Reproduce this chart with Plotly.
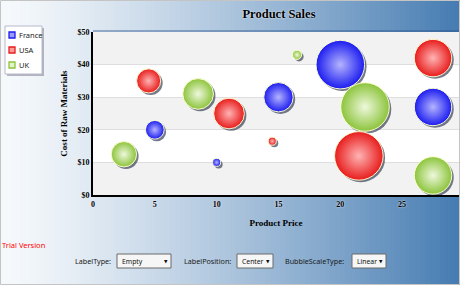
import plotly.graph_objects as go

# ---------------- data ----------------
series_names = ["France", "USA", "UK"]
france_price = [5, 10, 15, 20, 27.5]
france_cost = [20, 10, 30, 40, 27]
france_size = [49, 9, 121, 330, 196]
usa_price = [4.5, 11, 14.5, 21.5, 27.5]
usa_cost = [35, 25, 16.5, 12, 42]
usa_size = [81, 132, 9, 330, 196]
uk_price = [2.5, 8.5, 16.5, 22, 27.5]
uk_cost = [12.5, 31, 43, 27, 6]
uk_size = [90, 132, 12, 330, 196]
x_ticks = [0, 5, 10, 15, 20, 25]
y_ticks = [0, 10, 20, 30, 40, 50]
y_tick_labels = ["$0", "$10", "$20", "$30", "$40", "$50"]
control_labels = ["LabelType:", "LabelPosition:", "BubbleScaleType:"]
control_values = ["Empty", "Center", "Linear"]

# ---------------- styles / layout helpers ----------------
W, H = 460, 285
L, R, T, B = 93, 459, 32, 195
X_RANGE = [0, 29.6]
Y_RANGE = [0, 50]
edge_colors = ["#1c1cf0", "#e81c1c", "#8cc43c"]
center_colors = ["#b4b4ff", "#ffb4b4", "#eef8dc"]
icon_fill = ["#9a9aff", "#ff9a9a", "#e4f2c8"]

def px_x(p):
    return (p - L) / (R - L)

def px_y(p):
    return (B - p) / (B - T)

xs = [france_price, usa_price, uk_price]
ys = [france_cost, usa_cost, uk_cost]
ss = [france_size, usa_size, uk_size]

fig = go.Figure()
SIZEREF = 0.28

# shadows (overlay axes x2/y2 shifted by 2px)
for i in range(3):
    fig.add_trace(go.Scatter(
        x=xs[i], y=ys[i], mode="markers", xaxis="x2", yaxis="y2",
        showlegend=False, hoverinfo="skip",
        marker=dict(size=ss[i], sizemode="area", sizeref=SIZEREF, opacity=1,
                    color="rgba(25,35,60,0.6)", line=dict(width=0)),
    ))
# bubbles (overlay axes x3/y3, same range as visible axes)
for i in range(3):
    fig.add_trace(go.Scatter(
        x=xs[i], y=ys[i], mode="markers", xaxis="x3", yaxis="y3",
        name=series_names[i], showlegend=False,
        marker=dict(size=ss[i], sizemode="area", sizeref=SIZEREF, opacity=1,
                    color=edge_colors[i],
                    gradient=dict(type="radial", color=center_colors[i]),
                    line=dict(width=1, color="rgba(255,255,210,0.95)")),
    ))

ux = (X_RANGE[1] - X_RANGE[0]) / (R - L)
uy = (Y_RANGE[1] - Y_RANGE[0]) / (B - T)

shapes = []
# background gradient strips
N = 92
for k in range(N):
    t = k / (N - 1)
    tt = t ** 1.25
    c0 = (246, 249, 252)
    c1 = (70, 124, 178)
    col = tuple(int(round(c0[j] + (c1[j] - c0[j]) * tt)) for j in range(3))
    shapes.append(dict(type="rect", xref="paper", yref="paper",
                       x0=px_x(k * W / N), x1=px_x((k + 1) * W / N + 0.6),
                       y0=px_y(H), y1=px_y(0), layer="below",
                       line=dict(width=0), fillcolor="rgb(%d,%d,%d)" % col))
# outer border
shapes.append(dict(type="rect", xref="paper", yref="paper",
                   x0=px_x(0.5), x1=px_x(459.5), y0=px_y(284.5), y1=px_y(0.5),
                   line=dict(width=1, color="#c4c4c4"), layer="below"))
# plot area white background
shapes.append(dict(type="rect", xref="paper", yref="paper",
                   x0=0, x1=1, y0=0, y1=1, layer="below",
                   line=dict(width=0), fillcolor="white"))
# alternating bands
for a, b in zip(y_ticks[0::2], y_ticks[1::2]):
    shapes.append(dict(type="rect", xref="paper", yref="y",
                       x0=0, x1=1, y0=a, y1=b, layer="below",
                       line=dict(width=0), fillcolor="#f2f2f2"))
# top border line of plot
shapes.append(dict(type="line", xref="paper", yref="paper",
                   x0=0, x1=1, y0=px_y(31), y1=px_y(31),
                   line=dict(width=1.5, color="rgba(40,80,140,0.55)")))

# custom legend
shapes.append(dict(type="rect", xref="paper", yref="paper",
                   x0=px_x(7), x1=px_x(44), y0=px_y(76), y1=px_y(28),
                   line=dict(width=0), fillcolor="rgba(60,60,80,0.35)", layer="below"))
shapes.append(dict(type="rect", xref="paper", yref="paper",
                   x0=px_x(5), x1=px_x(42), y0=px_y(74), y1=px_y(26),
                   line=dict(width=1, color="#b8b8cc"), fillcolor="white", layer="below"))
annotations = []
for i, name in enumerate(series_names):
    cy = 35 + 15 * i
    shapes.append(dict(type="rect", xref="paper", yref="paper",
                       x0=px_x(9), x1=px_x(15), y0=px_y(cy + 3), y1=px_y(cy - 3),
                       line=dict(width=1.3, color=edge_colors[i]), fillcolor=icon_fill[i]))
    annotations.append(dict(xref="paper", yref="paper", x=px_x(17), y=px_y(cy),
                            text=name, showarrow=False, xanchor="left", yanchor="middle",
                            font=dict(family="Noto Sans", size=7.5, color="#1a1a1a")))

# trial text
annotations.append(dict(xref="paper", yref="paper", x=px_x(0), y=px_y(245),
                        text="Trial Version", showarrow=False, xanchor="left", yanchor="middle",
                        font=dict(family="Noto Sans", size=7.5, color="#ff0000")))

# bottom controls
label_right = [113, 233, 346]
box_x = [(117, 171), (237, 273), (352, 386)]
for lab, val, lr, (bx0, bx1) in zip(control_labels, control_values, label_right, box_x):
    annotations.append(dict(xref="paper", yref="paper", x=px_x(lr), y=px_y(261),
                            text=lab, showarrow=False, xanchor="right", yanchor="middle",
                            font=dict(family="Noto Sans", size=7.2, color="#1a1a1a")))
    shapes.append(dict(type="rect", xref="paper", yref="paper",
                       x0=px_x(bx0), x1=px_x(bx1), y0=px_y(268), y1=px_y(254),
                       line=dict(width=1, color="#6a6a6a"), fillcolor="#f6f6f6"))
    annotations.append(dict(xref="paper", yref="paper", x=px_x(bx0 + 2.5), y=px_y(261),
                            text=val, showarrow=False, xanchor="left", yanchor="middle",
                            font=dict(family="Noto Sans", size=6.8, color="#111111")))
    annotations.append(dict(xref="paper", yref="paper", x=px_x(bx1 - 5), y=px_y(261),
                            text="▼", showarrow=False, xanchor="center", yanchor="middle",
                            font=dict(family="DejaVu Sans", size=4.5, color="#111111")))

tick_font = dict(family="Liberation Serif", size=8, color="black", weight="bold",
                 shadow="0px 0px 2px white")
title_font = dict(family="Liberation Serif", size=9, color="black", weight="bold")

fig.update_layout(
    width=W, height=H,
    margin=dict(l=L, r=W - R, t=T, b=H - B, pad=0),
    paper_bgcolor="white", plot_bgcolor="rgba(0,0,0,0)",
    showlegend=False,
    title=dict(text="Product Sales", x=px_x(279), xref="paper", xanchor="center",
               y=1 - 14 / H, yref="container", yanchor="middle",
               font=dict(family="Liberation Serif", size=12.5, color="black", weight="bold",
                         shadow="0px 0px 2px white")),
    xaxis=dict(range=X_RANGE, tickvals=x_ticks, showgrid=False, zeroline=False,
               showline=True, linecolor="black", linewidth=2, ticks="",
               tickfont=tick_font,
               title=dict(text="Product Price", font=title_font, standoff=12)),
    yaxis=dict(range=Y_RANGE, tickvals=y_ticks, ticktext=y_tick_labels, showgrid=True,
               gridcolor="#dedede", gridwidth=1, zeroline=False,
               showline=True, linecolor="black", linewidth=2, ticks="",
               tickfont=tick_font,
               title=dict(text="Cost of Raw Materials", font=title_font, standoff=8)),
    xaxis2=dict(range=[X_RANGE[0] - 2 * ux, X_RANGE[1] - 2 * ux], overlaying="x",
                visible=False),
    yaxis2=dict(range=[Y_RANGE[0] + 2 * uy, Y_RANGE[1] + 2 * uy], overlaying="y",
                visible=False),
    xaxis3=dict(range=X_RANGE, overlaying="x", visible=False),
    yaxis3=dict(range=Y_RANGE, overlaying="y", visible=False),
    shapes=shapes,
    annotations=annotations,
)

fig.write_html("out.html")
